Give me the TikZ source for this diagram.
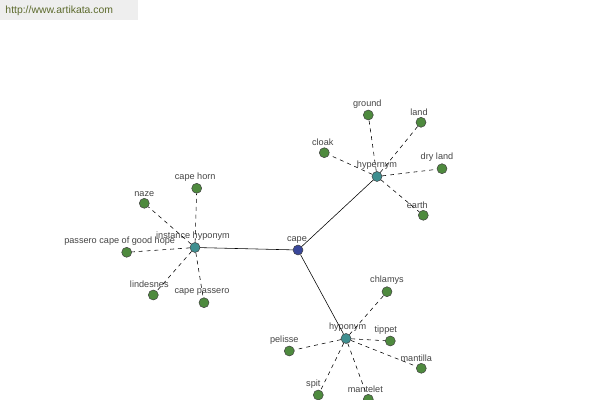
\documentclass[tikz,border=0pt]{standalone}
\usepackage{fontspec}
\setmainfont{Liberation Sans}
\usetikzlibrary{positioning}
\definecolor{leafgreen}{HTML}{4E8A3E}
\definecolor{hubteal}{HTML}{3F8F90}
\definecolor{rootblue}{HTML}{39479A}
\definecolor{urlgreen}{HTML}{5C6A2C}
\definecolor{urlback}{HTML}{EEEEEE}
\definecolor{lblgrey}{HTML}{444444}
\begin{document}
\begin{tikzpicture}[
  x=0.025cm, y=-0.025cm,
  every node/.style={font=\fontsize{6.5}{7}\selectfont},
  dot/.style    = {circle, draw=black!75, line width=0.35pt, inner sep=0pt, minimum size=0.25cm},
  leaf/.style   = {dot, fill=leafgreen},
  hub/.style    = {dot, fill=hubteal},
  root/.style   = {dot, fill=rootblue},
  lbl/.style    = {text=lblgrey, inner sep=0.5pt, label distance=0.6pt},
  mainlink/.style = {draw=black, line width=0.4pt},
  hyplink/.style  = {draw=black, line width=0.4pt, dash pattern=on 2.8pt off 2.8pt},
]
  \useasboundingbox (0,0) rectangle (600,400);
  \clip (0,0) rectangle (600,400);
  % site banner
  \fill[urlback] (0,0) rectangle (138,20);
  \node[text=urlgreen, font=\fontsize{7.4}{8}\selectfont, anchor=west] (url) at (0.5,11) {http://www.artikata.com};
  % centre and relation hubs
  \node[root, label={[lbl, xshift=-0.025cm]above:cape}]             (cape)  at (298,250) {};
  \node[hub,  label={[lbl, xshift=-0.05cm]above:instance hyponym}]  (ih)    at (195,247.5) {};
  \node[hub,  label={[lbl]above:hypernym}]                          (hyper) at (377,176.5) {};
  \node[hub,  label={[lbl, xshift=0.04cm]above:hyponym}]            (hypo)  at (346,338.5) {};
  \foreach \h in {ih, hyper, hypo}
     \draw[mainlink] (cape) -- (\h);
  % related words
  \foreach \h/\n/\x/\y/\d/\t in {ih/horn/196.7/188.3/-1.5/cape horn, ih/naze/144.3/203.3/0/naze,
                              ih/good/126.7/252.3/-7/passero cape of good hope,
                              ih/lind/153.3/295/-4/lindesnes, ih/passero/204/302.7/-2/cape passero,
                              hyper/ground/368.3/115/-1/ground, hyper/land/421/122.3/-2/land,
                              hyper/cloak/324.3/152.7/-1.5/cloak, hyper/dry/442/168.7/-5/dry land,
                              hyper/earth/423.3/215.3/-6/earth,
                              hypo/chlamys/387/291.7/0/chlamys, hypo/tippet/390.3/341/-4.5/tippet,
                              hypo/mantilla/421.3/368.3/-5/mantilla, hypo/pelisse/289.3/351/-5/pelisse,
                              hypo/spit/318.3/395/-5/spit, hypo/mantelet/368.3/399.3/-3/mantelet}
  {
     \node[leaf, label={[lbl, xshift=\d*0.025cm]above:\t}] (\n) at (\x,\y) {};
     \draw[hyplink] (\h) -- (\n);
  }
\end{tikzpicture}
\end{document}
